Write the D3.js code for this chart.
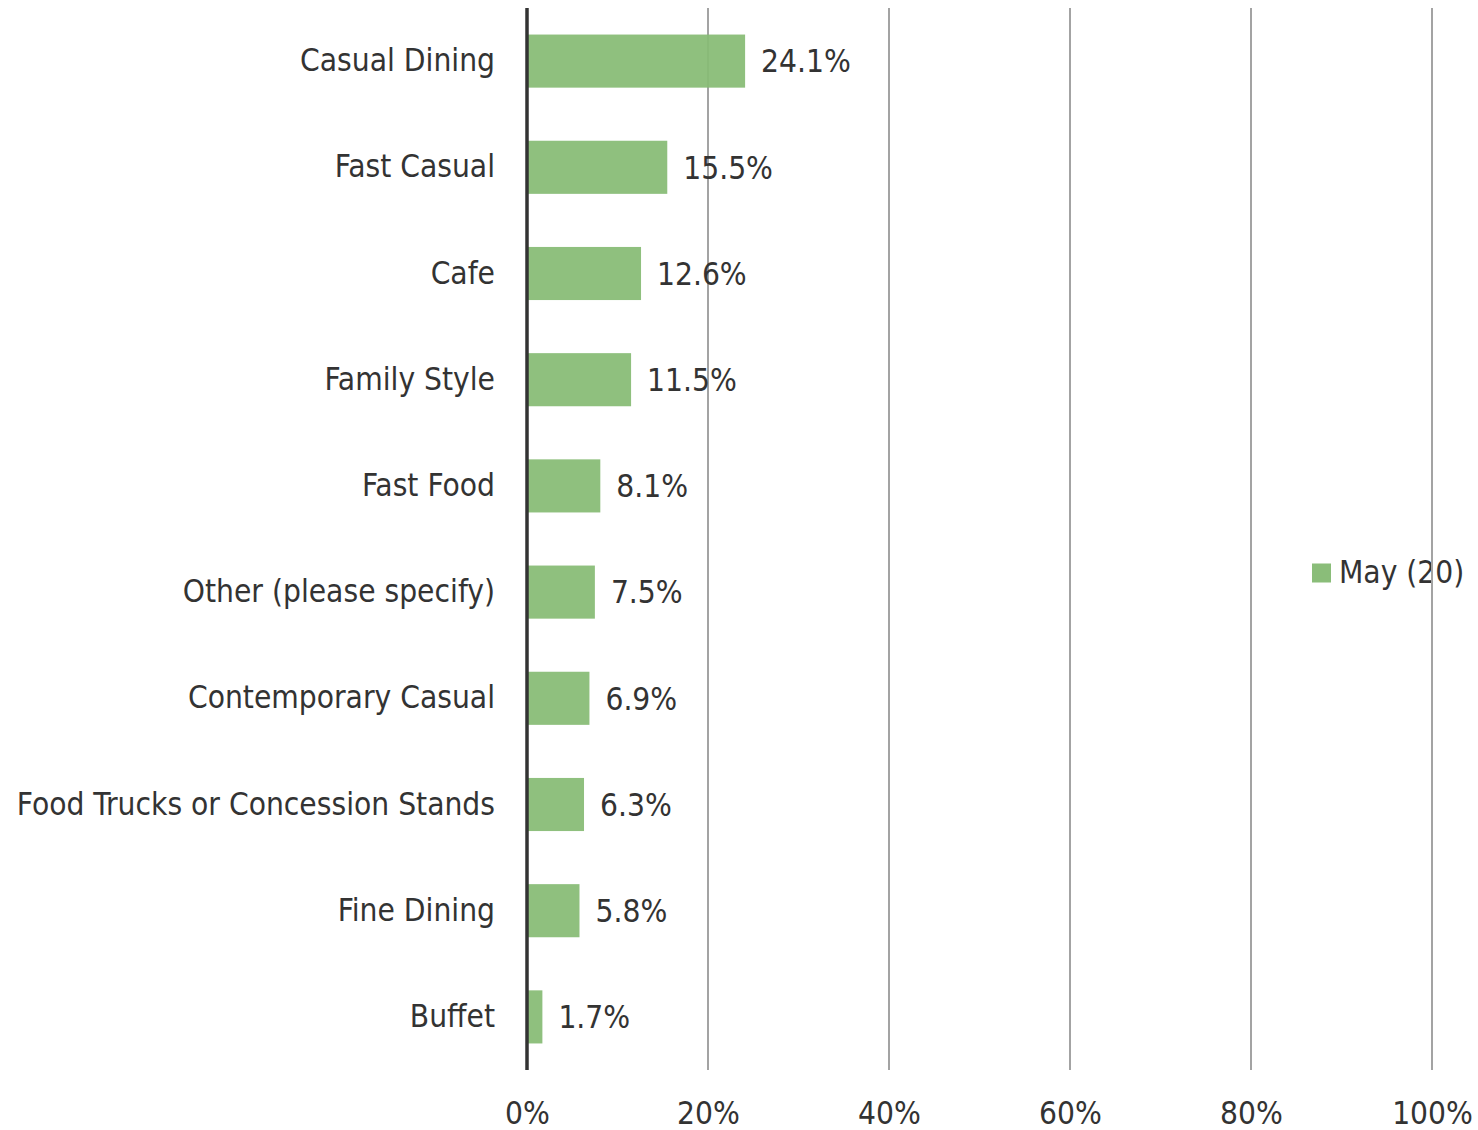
<!DOCTYPE html>
<html>
<head>
<meta charset="utf-8">
<script src="https://cdn.jsdelivr.net/npm/d3@7/dist/d3.min.js"></script>
<style>
  html, body { margin: 0; padding: 0; background: #fff; }
  svg { display: block; }
  text { font-family: "DejaVu Sans Condensed", "DejaVu Sans", sans-serif; fill: #333; }
</style>
</head>
<body>
<svg id="chart" width="1478" height="1130"></svg>
<script>
// Restaurant types, share of responses (May, n=20)
const categories = [
  "Casual Dining", "Fast Casual", "Cafe", "Family Style", "Fast Food",
  "Other (please specify)", "Contemporary Casual",
  "Food Trucks or Concession Stands", "Fine Dining", "Buffet"
];
const values = [24.1, 15.5, 12.6, 11.5, 8.1, 7.5, 6.9, 6.3, 5.8, 1.7];
const seriesName = "May (20)";
const tickValues = [0, 20, 40, 60, 80, 100];

const svg = d3.select("#chart");
const plot = { left: 527, right: 1432, top: 8, bottom: 1070 };

const x = d3.scaleLinear().domain([0, 100]).range([plot.left, plot.right]);
const y = d3.scaleBand().domain(categories).range([plot.top, plot.bottom])
  .paddingInner(0.5).paddingOuter(0.25);

const fontSize = 31.4;
const barColor = "#8abd79";

// vertical gridlines
svg.append("g").selectAll("line").data(tickValues.filter(d => d > 0)).join("line")
  .attr("x1", d => x(d)).attr("x2", d => x(d))
  .attr("y1", plot.top).attr("y2", plot.bottom)
  .attr("stroke", "#a3a3a3").attr("stroke-width", 2);

// bars (slightly translucent so gridlines show faintly through)
svg.append("g").selectAll("rect").data(values).join("rect")
  .attr("x", x(0))
  .attr("y", (d, i) => y(categories[i]))
  .attr("width", d => x(d) - x(0))
  .attr("height", y.bandwidth())
  .attr("fill", "#86bb74")
  .attr("fill-opacity", 0.93);

// value labels
svg.append("g").selectAll("text").data(values).join("text")
  .attr("x", d => x(d) + 16)
  .attr("y", (d, i) => y(categories[i]) + y.bandwidth() / 2)
  .attr("dy", "0.36em")
  .attr("font-size", fontSize)
  .text(d => d.toFixed(1) + "%");

// category axis labels
svg.append("g").selectAll("text").data(categories).join("text")
  .attr("x", 495)
  .attr("y", d => y(d) + y.bandwidth() / 2)
  .attr("dy", "0.32em")
  .attr("text-anchor", "end")
  .attr("font-size", fontSize)
  .text(d => d);

// bottom axis tick labels
const xAxis = d3.axisBottom(x).tickValues(tickValues).tickSize(0).tickPadding(0)
  .tickFormat(d => d + "%");
const ax = svg.append("g").attr("transform", `translate(0, ${plot.bottom + 43})`).call(xAxis);
ax.select(".domain").remove();
ax.selectAll("text").attr("font-size", fontSize).attr("fill", "#333")
  .attr("font-family", "\"DejaVu Sans Condensed\", \"DejaVu Sans\", sans-serif")
  .attr("dy", "0.36em").attr("y", 0);

// legend
const lg = svg.append("g").attr("transform", "translate(1312, 573)");
lg.append("rect").attr("x", 0).attr("y", -9.5).attr("width", 19).attr("height", 19).attr("fill", barColor);
lg.append("text").attr("x", 27).attr("y", 0).attr("dy", "0.33em").attr("font-size", fontSize).text(seriesName);

// gridline segment crossing the legend text
svg.append("line")
  .attr("x1", x(100)).attr("x2", x(100)).attr("y1", 550).attr("y2", 600)
  .attr("stroke", "#a3a3a3").attr("stroke-width", 2);

// value axis baseline
svg.append("line")
  .attr("x1", x(0)).attr("x2", x(0)).attr("y1", plot.top).attr("y2", plot.bottom)
  .attr("stroke", "#333").attr("stroke-width", 3.5);
</script>
</body>
</html>
